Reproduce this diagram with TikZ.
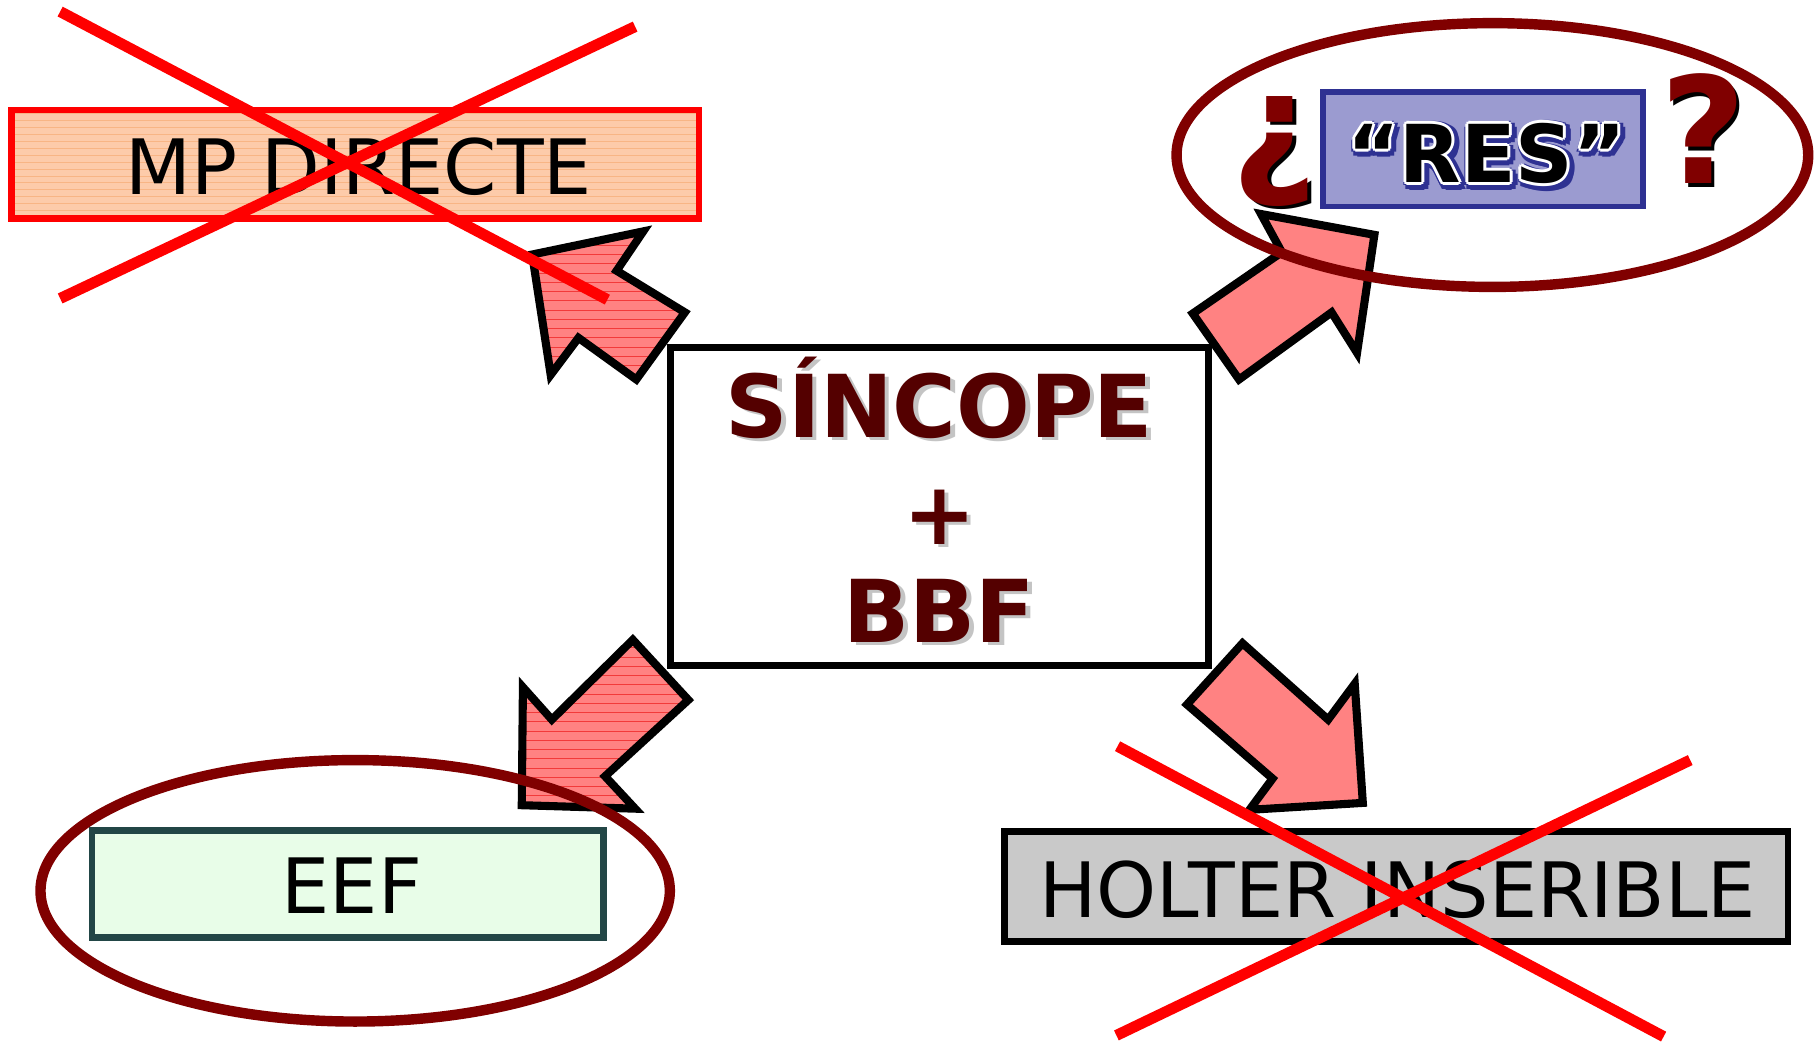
\documentclass[tikz,border=0pt]{standalone}
\usepackage{fontspec}
\setmainfont{DejaVu Sans}
\definecolor{crossred}{HTML}{FF0000}
\definecolor{maroon}{HTML}{800000}
\definecolor{wine}{HTML}{540000}
\definecolor{arrowpink}{HTML}{FF8282}
\definecolor{stripe}{HTML}{F23A3A}
\definecolor{peach}{HTML}{FDCBAA}
\definecolor{peachline}{HTML}{F5A468}
\definecolor{lavender}{HTML}{9B9BD0}
\definecolor{navy}{HTML}{2E3192}
\definecolor{mint}{HTML}{E8FDE8}
\definecolor{slate}{HTML}{224646}
\definecolor{silver}{HTML}{C9C9C9}
\definecolor{shade}{HTML}{C4C4C4}

\tikzset{
  blockarrow/.style={draw=black, line width=7pt, line join=miter, fill=arrowpink},
  strike/.style={draw=crossred, line width=9.5pt},
  ring/.style={draw=maroon, line width=9pt},
  panel/.style={rectangle, inner sep=0pt, outer sep=0pt},
  txt/.style={inner sep=0pt, outer sep=0pt, anchor=base},
  bigbold/.style={font=\fontsize{75pt}{80pt}\selectfont\bfseries},
  plainlabel/.style={font=\fontsize{66pt}{72pt}\selectfont},
  resfont/.style={font=\fontsize{69pt}{74pt}\selectfont\bfseries},
  qfont/.style={font=\fontsize{128pt}{130pt}\selectfont\bfseries},
}

% outlines of the four block arrows
\def\arrowNW{(460,220) -- (556,200) -- (533,234) -- (592,270) -- (550,328) -- (500,292) -- (476,324) -- cycle}
\def\arrowNE{(1188,203) -- (1173,305) -- (1151,270) -- (1071,328) -- (1031,271) -- (1108,218) -- (1090,185) -- cycle}
\def\arrowSW{(451,696) -- (452,594) -- (477,622) -- (547,553) -- (595,605) -- (523,671) -- (549,699) -- cycle}
\def\arrowSE{(1178,694) -- (1080,700) -- (1100,673) -- (1026,609) -- (1074,556) -- (1148,622) -- (1171,591) -- cycle}

\begin{document}
\begin{tikzpicture}[x=1pt, y=-1pt]
\useasboundingbox (0,0) rectangle (1568,900);

% ---------- MP DIRECTE (struck out) ----------
\node[panel, fill=peach, minimum width=594pt, minimum height=94pt] (mpbox) at (307,142) {};
\begin{scope}
  \clip (10,95) rectangle (604,189);
  \foreach \y in {98,104,...,188}
    \draw[peachline, line width=0.6pt, opacity=0.55] (10,\y) -- (604,\y);
\end{scope}
\node[panel, draw=crossred, line width=5.5pt, minimum width=594pt, minimum height=94pt] (mpframe) at (307,142) {};
\node[txt, plainlabel] (mptext) at (310,168) {MP DIRECTE};

% ---------- central box ----------
\node[panel, draw=black, fill=white, line width=6pt, minimum width=465pt, minimum height=275pt] (main) at (812,438) {};
\node[txt, bigbold, text=shade] (sincopeshadow) at (816,381) {SÍNCOPE};
\node[txt, bigbold, text=wine] (sincope) at (812,378) {SÍNCOPE};
\node[inner sep=0pt, bigbold, text=shade] (plusshadow) at (816,450) {+};
\node[inner sep=0pt, bigbold, text=wine] (plus) at (812,447) {+};
\node[txt, bigbold, text=shade] (bbfshadow) at (816,558) {BBF};
\node[txt, bigbold, text=wine] (bbf) at (812,555) {BBF};

% ---------- arrow towards MP DIRECTE (striped) ----------
\fill[arrowpink] \arrowNW;
\begin{scope}
  \clip \arrowNW;
  \foreach \y in {196,204,...,332}
    \draw[stripe, line width=0.8pt] (450,\y) -- (600,\y);
\end{scope}
\draw[blockarrow, fill=none] \arrowNW;

% cross over MP DIRECTE
\draw[strike] (52,10) -- (525,259);
\draw[strike] (52,258) -- (549,23);

% ---------- arrow towards "RES" ----------
\draw[blockarrow] \arrowNE;

% ---------- "RES" with white outline and navy glow ----------
\node[panel, draw=navy, fill=lavender, line width=5pt, minimum width=277pt, minimum height=99pt] (resbox) at (1282,129) {};
\foreach \a in {0,45,...,315}
  \node[txt, resfont, text=navy, shift={(\a:5)}] (resglow\a) at (1287,160) {“RES”};
\foreach \a in {0,45,...,315}
  \node[txt, resfont, text=white, shift={(\a:2.6)}] (reshalo\a) at (1285,158) {“RES”};
\node[txt, resfont, text=black] (res) at (1285,158) {“RES”};

\node[txt, qfont, text=black] (invqshadow) at (1105,156) {¿};
\node[txt, qfont, text=maroon] (invq) at (1102,153) {¿};
\node[txt, qfont, text=black] (qshadow) at (1475,162) {?};
\node[txt, qfont, text=maroon] (q) at (1472,159) {?};

\draw[ring] (1290,134) ellipse [x radius=273, y radius=114];

% ---------- arrow towards EEF (striped) ----------
\fill[arrowpink] \arrowSW;
\begin{scope}
  \clip \arrowSW;
  \foreach \y in {552,560,...,700}
    \draw[stripe, line width=0.8pt] (440,\y) -- (600,\y);
\end{scope}
\draw[blockarrow, fill=none] \arrowSW;

% ---------- EEF ----------
\node[panel, draw=slate, fill=mint, line width=6pt, minimum width=442pt, minimum height=93pt] (eefbox) at (300.5,764) {};
\node[txt, plainlabel] (eef) at (304,790) {EEF};
\draw[ring] (307,770) ellipse [x radius=272, y radius=113];

% ---------- arrow towards HOLTER ----------
\draw[blockarrow] \arrowSE;

% ---------- HOLTER INSERIBLE (struck out) ----------
\node[panel, draw=black, fill=silver, line width=6pt, minimum width=677pt, minimum height=95pt] (holterbox) at (1207,766) {};
\node[txt, font=\fontsize{66pt}{72pt}\selectfont] (holter) at (1208,793) {HOLTER INSERIBLE};
\draw[strike] (966,645) -- (1438,896);
\draw[strike] (965,895) -- (1461,657);

\end{tikzpicture}
\end{document}
